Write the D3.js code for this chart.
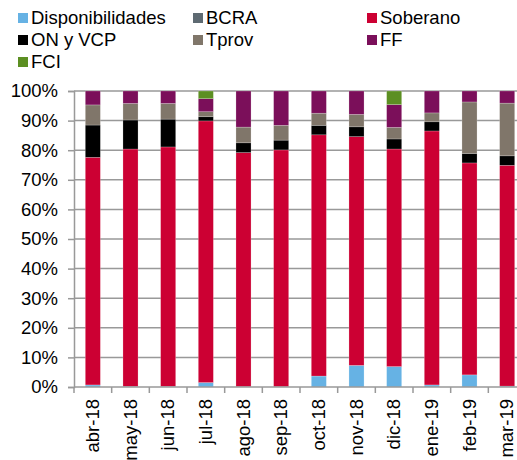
<!DOCTYPE html>
<html>
<head>
<meta charset="utf-8">
<script src="https://cdn.jsdelivr.net/npm/d3@7"></script>
<style>
  html, body { margin: 0; padding: 0; background: #fff; }
  svg text { font-family: "Liberation Sans", Arial, sans-serif; fill: #000; }
</style>
</head>
<body>
<div id="container"></div>
<script>
// categories (months)
const months = ['abr-18', 'may-18', 'jun-18', 'jul-18', 'ago-18', 'sep-18',
  'oct-18', 'nov-18', 'dic-18', 'ene-19', 'feb-19', 'mar-19'];

// series, share of portfolio in %
const seriesNames = ['Disponibilidades', 'BCRA', 'Soberano', 'ON y VCP', 'Tprov', 'FF', 'FCI'];
const disponibilidades = [0.7, 0.2, 0.2, 1.5, 0.1, 0.1, 3.7, 7.3, 6.9, 0.7, 4.1, 0.3];
const bcra = [0, 0, 0, 0, 0, 0, 0, 0, 0, 0, 0, 0];
const soberano = [76.9, 80.2, 80.9, 88.4, 79.1, 80.0, 81.5, 77.3, 73.5, 85.8, 71.6, 74.6];
const onVcp = [10.9, 9.8, 9.4, 1.4, 3.3, 3.3, 3.2, 3.3, 3.4, 3.1, 3.2, 3.2];
const tprov = [6.8, 5.6, 5.3, 1.7, 5.3, 5.0, 4.1, 4.2, 3.9, 3.0, 17.4, 17.8];
const ff = [4.7, 4.2, 4.2, 4.4, 12.2, 11.6, 7.5, 7.9, 7.7, 7.4, 3.7, 4.1];
const fci = [0, 0, 0, 2.6, 0, 0, 0, 0, 4.6, 0, 0, 0];

const yTicks = [0, 10, 20, 30, 40, 50, 60, 70, 80, 90, 100];

const colors = {
  'Disponibilidades': '#66b2e4',
  'BCRA': '#5e6a72',
  'Soberano': '#cc0033',
  'ON y VCP': '#000000',
  'Tprov': '#80766a',
  'FF': '#7b0f5a',
  'FCI': '#5c8f22'
};

const width = 517;
const height = 460;
const fontSize = 18.5;
const margin = { top: 91, left: 74, bottom: 73 };
const plotRight = 526; // the plot runs slightly past the picture edge

const table = months.map((m, i) => ({
  month: m,
  'Disponibilidades': disponibilidades[i],
  'BCRA': bcra[i],
  'Soberano': soberano[i],
  'ON y VCP': onVcp[i],
  'Tprov': tprov[i],
  'FF': ff[i],
  'FCI': fci[i]
}));

const stacked = d3.stack().keys(seriesNames)(table);

const svg = d3.select('#container')
  .append('svg')
  .attr('width', width)
  .attr('height', height);

const x = d3.scaleBand()
  .domain(months)
  .range([margin.left, plotRight])
  .paddingInner(0.6)
  .paddingOuter(0.3);

const y = d3.scaleLinear()
  .domain([0, 100])
  .range([height - margin.bottom, margin.top]);

// gridlines
svg.append('g')
  .selectAll('line')
  .data(yTicks.filter(t => t > 0))
  .join('line')
  .attr('x1', margin.left)
  .attr('x2', plotRight)
  .attr('y1', d => y(d))
  .attr('y2', d => y(d))
  .attr('stroke', '#999')
  .attr('stroke-width', 1.5);

// bars
svg.append('g')
  .selectAll('g')
  .data(stacked)
  .join('g')
  .attr('fill', d => colors[d.key])
  .selectAll('rect')
  .data(d => d.filter(s => s[1] - s[0] > 0))
  .join('rect')
  .attr('x', d => x(d.data.month))
  .attr('width', x.bandwidth())
  .attr('y', d => y(d[1]))
  .attr('height', d => y(d[0]) - y(d[1]))
  .attr('stroke', 'rgba(255,255,255,0.35)')
  .attr('stroke-width', 0.6);

// y axis
const yAxis = svg.append('g')
  .attr('transform', `translate(${margin.left},0)`)
  .call(d3.axisLeft(y).tickValues(yTicks).tickFormat(d => d + '%').tickSize(6).tickPadding(10));
yAxis.select('.domain').attr('stroke', '#999').attr('stroke-width', 1.5);
yAxis.selectAll('.tick line').attr('stroke', '#999').attr('stroke-width', 1.5);
yAxis.selectAll('.tick text')
  .attr('font-size', fontSize)
  .style('font-family', '"Liberation Sans", Arial, sans-serif');

// x axis: ticks at category boundaries
const xBase = height - margin.bottom;
const step = x.step();
const firstEdge = margin.left;
const boundaries = d3.range(months.length + 1).map(i => firstEdge + i * step);
svg.append('line')
  .attr('x1', margin.left)
  .attr('x2', plotRight)
  .attr('y1', xBase)
  .attr('y2', xBase)
  .attr('stroke', '#999')
  .attr('stroke-width', 1.5);
svg.append('g')
  .selectAll('line')
  .data(boundaries)
  .join('line')
  .attr('x1', d => d)
  .attr('x2', d => d)
  .attr('y1', xBase)
  .attr('y2', xBase + 6)
  .attr('stroke', '#999')
  .attr('stroke-width', 1.5);

svg.append('g')
  .selectAll('text')
  .data(months)
  .join('text')
  .attr('transform', d => `translate(${x(d) + x.bandwidth() / 2 + 6},${xBase + 12}) rotate(-90)`)
  .attr('text-anchor', 'end')
  .attr('font-size', fontSize)
  .text(d => d);

// legend
const legendPos = [
  [18, 18], [193, 18], [367, 18],
  [18, 40], [193, 40], [367, 40],
  [18, 62]
];
const legend = svg.append('g')
  .selectAll('g')
  .data(seriesNames)
  .join('g')
  .attr('transform', (d, i) => `translate(${legendPos[i][0]},${legendPos[i][1]})`);
legend.append('rect')
  .attr('x', 0)
  .attr('y', -5)
  .attr('width', 10)
  .attr('height', 10)
  .attr('fill', d => colors[d]);
legend.append('text')
  .attr('x', 13)
  .attr('y', 0)
  .attr('dy', '0.35em')
  .attr('font-size', fontSize)
  .text(d => d);
</script>
</body>
</html>
